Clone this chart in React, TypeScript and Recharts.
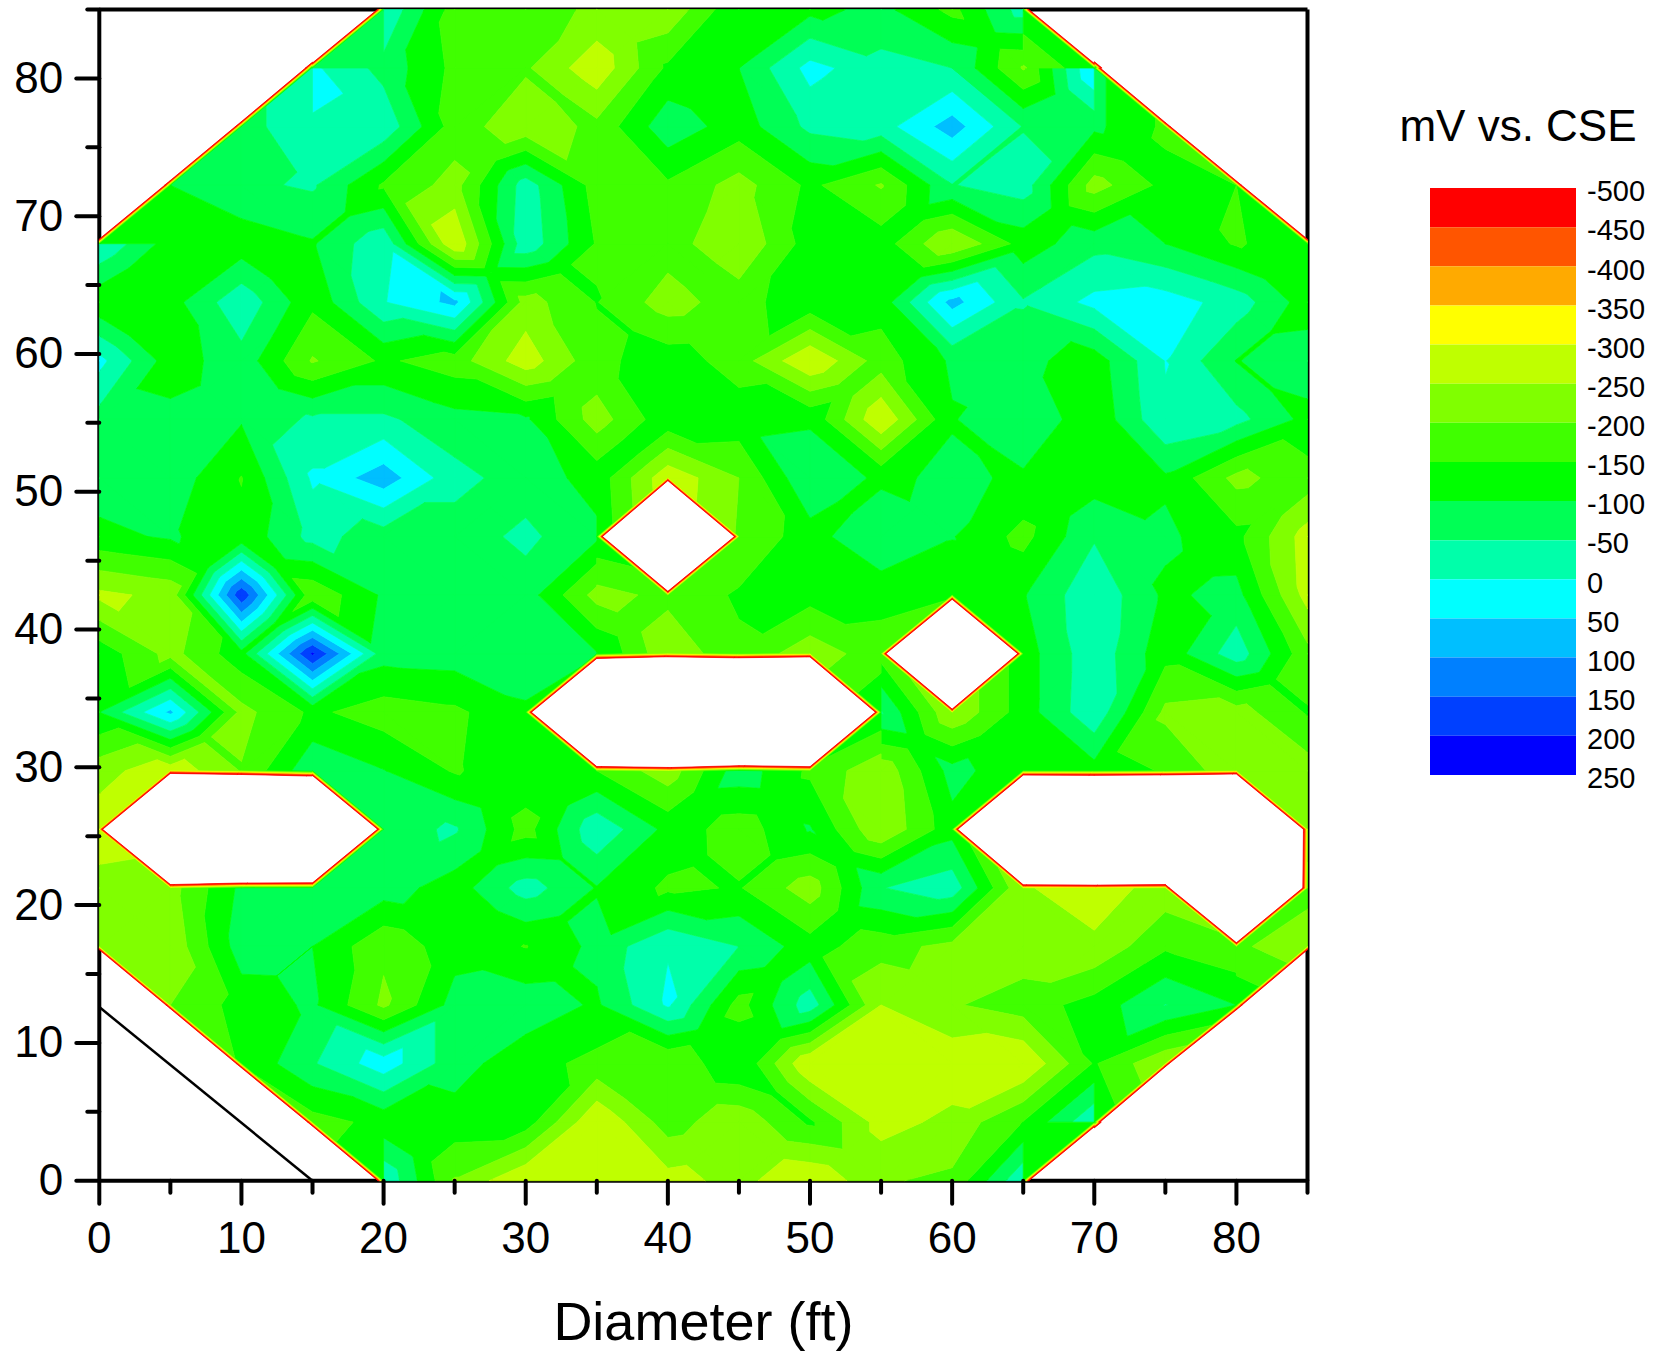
import React from "react"
import { Bar, BarChart, ReferenceLine, Scatter, ScatterChart, XAxis, YAxis } from "recharts"

const n = null
const gridX = [0, 5, 10, 15, 20, 25, 30, 35, 40, 45, 50, 55, 60, 65, 70, 75, 80, 85]
const gridY = [85, 80.75, 76.5, 72.25, 68, 63.75, 59.5, 55.25, 51, 46.75, 42.5, 38.25, 34, 29.75, 25.5, 21.25, 17, 12.75, 8.5, 4.25, 0]

// mV readings, one row per gridY, top of the tank first
const row85 = [n, n, n, n, -3, -173, -180, -208, -240, -105, -115, -85, -165, -25, n, n, n, n]
const row80 = [n, n, n, 10, -67, -163, -193, -286, -140, -100, 18, -33, -50, -205, 55, n, n, n]
const row76 = [n, n, -75, -3, -13, -174, -236, -186, -67, -126, -38, -21, 75, -53, -88, -160, n, n]
const row72 = [n, -100, -60, -43, -157, -219, -23, -173, -158, -220, -139, -205, -52, -24, -222, -134, -150, n]
const row68 = [-2, -125, -130, -105, -10, -295, -15, -155, -175, -246, -125, -125, -250, -128, -66, -100, -155, -120]
const row63 = [-140, -120, -12, -138, -3, 65, -222, -148, -225, -170, -116, -129, 70, -45, 15, 25, -22, -126]
const row59 = [16, -127, -69, -205, -142, -176, -278, -165, -120, -175, -297, -175, -92, -85, -127, 2, -102, -70]
const row55 = [-70, -85, -95, -40, -40, -83, -92, -225, -115, -120, -110, -295, -104, -52, -139, -6, -33, -116]
const row51 = [-70, -70, -152, 8, 79, -32, -75, -118, -287, -200, -52, -112, -88, -109, -125, -108, -215, -170]
const row46 = [-115, -93, -138, -32, -75, -75, -38, -90, n, -195, -122, -50, -97, -166, -55, -90, -135, -275]
const row42 = [-262, -236, 192, -190, -92, -80, -74, -219, -186, -143, -130, -135, -148, -104, -11, -110, -82, -270]
const row38 = [-118, -218, -118, 210, -80, -75, -60, -97, -240, -160, -231, -170, n, -125, -15, -133, -20, -185]
const row34 = [-100, 62, -216, -140, -175, -160, -110, n, n, n, n, -45, -245, -125, -11, -212, -222, -145]
const row29 = [-230, -285, -197, -60, -98, -155, -115, -150, -230, -70, -160, -237, -80, -140, -120, -155, -234, -225]
const row25 = [-280, n, n, n, -70, -43, -170, -10, -115, -179, -95, -245, -118, n, n, n, n, -225]
const row21 = [-230, -220, -88, -70, -75, -125, -26, -103, -160, -146, -227, -52, -18, -245, -276, -229, n, -180]
const row17 = [-225, -238, -73, -100, -190, -120, -152, -85, -3, -50, -128, -180, -215, -230, -240, -158, -190, -235]
const row12 = [n, -200, -130, -91, -210, -80, -70, -107, 8, -170, -20, -250, -205, -175, -130, -48, -100, n]
const row8 = [n, n, -145, -55, 30, -80, -130, -165, -200, -100, -298, -280, -285, -298, -145, -245, n, n]
const row4 = [n, n, n, -170, -135, -120, -125, -298, -175, -239, -141, -271, -235, -148, -5, n, n, n]
const row0 = [n, n, n, n, -5, -205, -298, -298, -270, -232, -299, -205, -190, -5, n, n, n, n]
const rows = [row85, row80, row76, row72, row68, row63, row59, row55, row51, row46, row42, row38, row34, row29, row25, row21, row17, row12, row8, row4, row0]

// the plotting program fills blanks with a far off value, that gives the thin red rim
const BLANK = -5000
const TYPICAL = -120
const RIM_CEILING = -110
// saddle cells (column, row) where the low pair is joined in the picture
const joinedSaddles = ["1,11"]

const cutLine = [{ x: 0, y: 12.6 }, { x: 15, y: 0 }]

const bandLevels = [-500, -450, -400, -350, -300, -250, -200, -150, -100, -50, 0, 50, 100, 150, 200, 250]
const bandColors = ["#FF0000", "#FF5500", "#FFAA00", "#FFFF00", "#BFFF00", "#80FF00", "#40FF00", "#00FF00", "#00FF55", "#00FFAA", "#00FFFF", "#00BFFF", "#0080FF", "#0040FF", "#0000FF"]

const xTicks = [0, 5, 10, 15, 20, 25, 30, 35, 40, 45, 50, 55, 60, 65, 70, 75, 80, 85]
const yTicks = xTicks
const FONT = "'Liberation Sans', Arial, sans-serif"

type V = { x: number; y: number; z: number }

const triangles: V[][] = []
for (let r = 0; r < rows.length - 1; r++) {
  for (let c = 0; c < gridX.length - 1; c++) {
    const corner = (rr: number, cc: number): V => ({ x: gridX[cc], y: gridY[rr], z: rows[rr][cc] ?? BLANK })
    const a = corner(r, c)
    const b = corner(r, c + 1)
    const d = corner(r + 1, c + 1)
    const e = corner(r + 1, c)
    const blank = (p: V) => p.z === BLANK
    const all = [a, b, d, e]
    const blanks = all.filter(blank).length
    if (blanks === 4) continue
    if (blanks === 1) {
      // cell cut by the rim: the two rim nodes do not carry a high value into it
      const i = all.findIndex(blank)
      const inner = all[(i + 2) % 4]
      const cap = (p: V) => ({ ...p, z: Math.min(p.z, Math.max(inner.z, RIM_CEILING)) })
      const p = cap(all[(i + 1) % 4])
      const q = cap(all[(i + 3) % 4])
      triangles.push([inner, p, q], [all[i], p, q])
      continue
    }
    if (blanks > 1) {
      // keep a cut whose two ends are alike, so the rim runs straight
      if (blank(a) === blank(d)) triangles.push([a, b, d], [a, d, e])
      else triangles.push([a, b, e], [b, d, e])
      continue
    }
    const saddle = Math.min(a.z, d.z) > Math.max(b.z, e.z) || Math.min(b.z, e.z) > Math.max(a.z, d.z)
    if (saddle) {
      // two opposite peaks stay apart: the middle of the cell sits near the usual level
      const lowPair = a.z + d.z < b.z + e.z ? [a.z, d.z] : [b.z, e.z]
      const highPair = a.z + d.z < b.z + e.z ? [b.z, e.z] : [a.z, d.z]
      const floor = Math.max(...lowPair)
      const top = Math.min(...highPair)
      const mid = joinedSaddles.includes(`${c},${r}`) ? floor : Math.min(top, Math.max(floor, TYPICAL))
      const m = { x: (a.x + b.x) / 2, y: (a.y + e.y) / 2, z: mid }
      triangles.push([a, b, m], [b, d, m], [d, e, m], [e, a, m])
    } else if (Math.abs(a.z - d.z) < Math.abs(b.z - e.z)) {
      triangles.push([a, b, d], [a, d, e])
    } else {
      triangles.push([a, b, e], [b, d, e])
    }
  }
}

const clip = (poly: V[], level: number, above: boolean) => {
  const out: V[] = []
  const inside = (p: V) => (above ? p.z >= level : p.z <= level)
  poly.forEach((p, i) => {
    const q = poly[(i + 1) % poly.length]
    if (inside(p)) out.push(p)
    if (inside(p) !== inside(q)) {
      const t = (level - p.z) / (q.z - p.z)
      out.push({ x: p.x + t * (q.x - p.x), y: p.y + t * (q.y - p.y), z: level })
    }
  })
  return out
}

const bands = bandColors.map((color, i) => {
  const data: { x: number; y: number }[] = []
  const sizes: number[] = []
  triangles.forEach((tri) => {
    const poly = clip(clip(tri, bandLevels[i], true), bandLevels[i + 1], false)
    if (poly.length > 2) {
      poly.forEach((p) => data.push({ x: p.x, y: p.y }))
      sizes.push(poly.length)
    }
  })
  return { color, data, sizes }
})

const NoDot = () => <g />

const bandLine = (sizes: number[], color: string) => (props: any) => {
  let at = 0
  let d = ""
  sizes.forEach((size) => {
    const pts = props.points.slice(at, at + size)
    d += "M" + pts.map((p: any) => `${p.x},${p.y}`).join("L") + "Z"
    at += size
  })
  return <path key="band" d={d} fill={color} stroke={color} strokeWidth={0.7} strokeLinejoin="round" />
}

const XTick = ({ x, y, payload }: any) => {
  const major = payload.value % 10 === 0 && payload.value < 85
  return (
    <g>
      <line x1={x} x2={x} y1={y} y2={y + (major ? 23 : 12)} stroke="#000" strokeWidth={4} strokeLinecap="round" />
      {major && (
        <text x={x} y={y + 72} textAnchor="middle" fontSize={44} fontFamily={FONT} fill="#000">
          {payload.value}
        </text>
      )}
    </g>
  )
}

const YTick = ({ x, y, payload }: any) => {
  const major = payload.value % 10 === 0 && payload.value < 85
  return (
    <g>
      <line x1={x} x2={x - (major ? 23 : 12)} y1={y} y2={y} stroke="#000" strokeWidth={4} strokeLinecap="round" />
      {major && (
        <text x={x - 36} y={y + 14.5} textAnchor="end" fontSize={44} fontFamily={FONT} fill="#000">
          {payload.value}
        </text>
      )}
    </g>
  )
}

const legendData = [{ name: "scale", ...Object.fromEntries(bandColors.map((_, i) => [`b${i}`, 50])) }]
const legendTicks = bandLevels.map((v) => v + 500)

export default function App() {
  return (
    <div style={{ position: "absolute", left: 0, top: 0, width: 1656, height: 1351, background: "#fff" }}>
      <ScatterChart width={1656} height={1351} margin={{ top: 9.5, right: 348.5, bottom: 0, left: 0 }}>
        {[...bands].reverse().map((band) => (
          <Scatter
            key={band.color}
            data={band.data}
            shape={NoDot}
            line={bandLine(band.sizes, band.color)}
            isAnimationActive={false}
          />
        ))}
        <Scatter
          data={cutLine}
          shape={NoDot}
          line={{ stroke: "#000", strokeWidth: 2.5 }}
          isAnimationActive={false}
        />
        <ReferenceLine y={85} stroke="#000" strokeWidth={4} />
        <ReferenceLine x={85} stroke="#000" strokeWidth={4} />
        <XAxis
          type="number"
          dataKey="x"
          domain={[0, 85]}
          ticks={xTicks}
          interval={0}
          height={170.3}
          tickSize={0}
          tickMargin={0}
          tick={XTick}
          tickLine={false}
          axisLine={{ stroke: "#000", strokeWidth: 4 }}
          label={{ value: "Diameter (ft)", position: "insideBottom", offset: 11, fontSize: 54, fontFamily: FONT, fill: "#000" }}
        />
        <YAxis
          type="number"
          dataKey="y"
          domain={[0, 85]}
          ticks={yTicks}
          interval={0}
          width={99.3}
          tickSize={0}
          tickMargin={0}
          tick={YTick}
          tickLine={false}
          axisLine={{ stroke: "#000", strokeWidth: 4 }}
        />
      </ScatterChart>
      <div
        style={{
          position: "absolute",
          left: 1380,
          top: 100,
          width: 276,
          textAlign: "center",
          fontFamily: FONT,
          fontSize: 44,
          lineHeight: "52px",
          color: "#000",
        }}
      >
        mV vs. CSE
      </div>
      <div style={{ position: "absolute", left: 1430, top: 150 }}>
        <BarChart
          width={226}
          height={660}
          data={legendData}
          barCategoryGap={0}
          margin={{ top: 38, right: 0, bottom: 35, left: 0 }}
        >
          <XAxis hide dataKey="name" />
          <YAxis
            type="number"
            orientation="right"
            reversed
            domain={[0, 750]}
            ticks={legendTicks}
            interval={0}
            width={80}
            tickSize={0}
            tickMargin={11}
            axisLine={false}
            tickLine={false}
            tickFormatter={(v: number) => String(v - 500)}
            tick={{ fontSize: 29, fontFamily: FONT, fill: "#000", textAnchor: "start", dy: 3 }}
          />
          {bandColors.map((color, i) => (
            <Bar key={color} dataKey={`b${i}`} stackId="scale" fill={color} isAnimationActive={false} />
          ))}
        </BarChart>
      </div>
    </div>
  )
}
